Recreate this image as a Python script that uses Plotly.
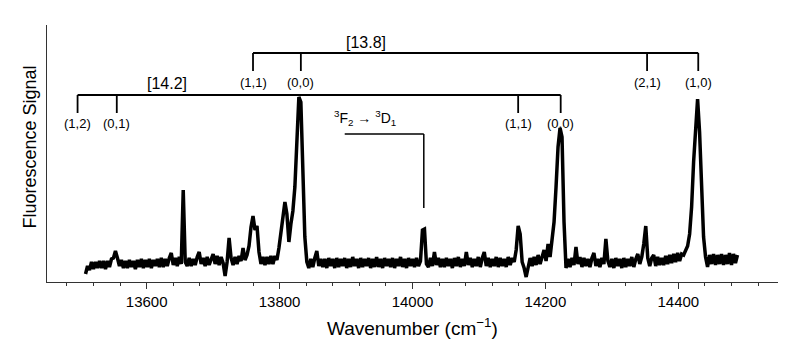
import plotly.graph_objects as go

# ---- data ----
wavenumber = [
    13508, 13511, 13514, 13517, 13520, 13523, 13526, 13529, 13532, 13535,
    13538, 13541, 13544, 13547, 13550, 13553, 13556, 13559, 13562, 13565,
    13568, 13571, 13574, 13577, 13580, 13583, 13586, 13589, 13592, 13595,
    13598, 13601, 13604, 13607, 13610, 13613, 13616, 13619, 13622, 13625,
    13628, 13631, 13634, 13637, 13640, 13643, 13646, 13649, 13652, 13655,
    13658, 13661, 13664, 13667, 13670, 13673, 13676, 13679, 13682, 13685,
    13688, 13691, 13694, 13697, 13700, 13703, 13706, 13709, 13712, 13715,
    13718, 13721, 13724, 13727, 13730, 13733, 13736, 13739, 13742, 13745,
    13748, 13751, 13754, 13757, 13760, 13763, 13766, 13769, 13772, 13775,
    13778, 13781, 13784, 13787, 13790, 13793, 13796, 13799, 13802, 13805,
    13808, 13811, 13814, 13817, 13820, 13823, 13826, 13829, 13832, 13835,
    13838, 13841, 13844, 13847, 13850, 13853, 13856, 13859, 13862, 13865,
    13868, 13871, 13874, 13877, 13880, 13883, 13886, 13889, 13892, 13895,
    13898, 13901, 13904, 13907, 13910, 13913, 13916, 13919, 13922, 13925,
    13928, 13931, 13934, 13937, 13940, 13943, 13946, 13949, 13952, 13955,
    13958, 13961, 13964, 13967, 13970, 13973, 13976, 13979, 13982, 13985,
    13988, 13991, 13994, 13997, 14000, 14003, 14006, 14009, 14012, 14015,
    14018, 14021, 14024, 14027, 14030, 14033, 14036, 14039, 14042, 14045,
    14048, 14051, 14054, 14057, 14060, 14063, 14066, 14069, 14072, 14075,
    14078, 14081, 14084, 14087, 14090, 14093, 14096, 14099, 14102, 14105,
    14108, 14111, 14114, 14117, 14120, 14123, 14126, 14129, 14132, 14135,
    14138, 14141, 14144, 14147, 14150, 14153, 14156, 14159, 14162, 14165,
    14168, 14171, 14174, 14177, 14180, 14183, 14186, 14189, 14192, 14195,
    14198, 14201, 14204, 14207, 14210, 14213, 14216, 14219, 14222, 14225,
    14228, 14231, 14234, 14237, 14240, 14243, 14246, 14249, 14252, 14255,
    14258, 14261, 14264, 14267, 14270, 14273, 14276, 14279, 14282, 14285,
    14288, 14291, 14294, 14297, 14300, 14303, 14306, 14309, 14312, 14315,
    14318, 14321, 14324, 14327, 14330, 14333, 14336, 14339, 14342, 14345,
    14348, 14351, 14354, 14357, 14360, 14363, 14366, 14369, 14372, 14375,
    14378, 14381, 14384, 14387, 14390, 14393, 14396, 14399, 14402, 14405,
    14408, 14411, 14414, 14417, 14420, 14423, 14426, 14429, 14432, 14435,
    14438, 14441, 14444, 14447, 14450, 14453, 14456, 14459, 14462, 14465,
    14468, 14471, 14474, 14477, 14480, 14483, 14486, 14489,
]
signal = [
    8, 16, 12, 20, 13, 20, 14, 21, 14, 21,
    13, 21, 15, 23, 24, 31, 24, 16, 22, 14,
    21, 14, 22, 15, 21, 13, 22, 15, 23, 14,
    22, 15, 23, 14, 22, 16, 23, 15, 24, 15,
    23, 16, 24, 29, 17, 24, 16, 25, 18, 92,
    20, 16, 24, 16, 23, 17, 25, 30, 18, 24,
    16, 25, 17, 24, 28, 18, 26, 17, 25, 19,
    6, 20, 44, 24, 17, 25, 18, 26, 21, 34,
    22, 27, 36, 55, 66, 52, 56, 30, 18, 25,
    17, 25, 18, 26, 18, 26, 22, 34, 50, 70,
    80, 68, 40, 58, 71, 95, 135, 185, 180, 110,
    45, 20, 14, 23, 15, 24, 31, 16, 23, 15,
    23, 14, 24, 16, 23, 14, 24, 15, 23, 16,
    24, 14, 23, 15, 25, 16, 23, 14, 24, 15,
    23, 16, 24, 14, 23, 15, 25, 15, 23, 14,
    24, 16, 23, 15, 24, 14, 23, 16, 25, 15,
    23, 14, 24, 16, 23, 15, 24, 16, 21, 52,
    53, 18, 15, 24, 16, 30, 17, 24, 15, 23,
    15, 24, 16, 23, 14, 24, 16, 25, 15, 23,
    16, 30, 17, 24, 15, 23, 16, 25, 15, 24,
    30, 16, 24, 15, 23, 16, 25, 15, 24, 16,
    23, 15, 25, 17, 24, 20, 32, 56, 48, 20,
    14, 5, 15, 24, 16, 25, 17, 27, 18, 26,
    32, 21, 38, 25, 40, 60, 95, 135, 154, 145,
    60, 14, 23, 15, 24, 17, 35, 18, 25, 15,
    24, 16, 23, 15, 24, 29, 16, 23, 15, 24,
    18, 43, 21, 15, 23, 14, 24, 16, 23, 14,
    24, 15, 23, 16, 25, 15, 23, 28, 18, 25,
    38, 56, 24, 16, 24, 27, 16, 25, 17, 24,
    17, 26, 18, 27, 19, 28, 20, 29, 21, 28,
    27, 32, 36, 48, 75, 120, 160, 183, 150, 100,
    45, 25, 15, 27, 18, 28, 17, 27, 18, 28,
    17, 27, 18, 29, 17, 28, 19, 27,
]

x_ticks = [13600, 13800, 14000, 14200, 14400]
x_tick_labels = ["13600", "13800", "14000", "14200", "14400"]

band_142_positions = [13496, 13555, 14159, 14223]
band_142_labels = ["(1,2)", "(0,1)", "(1,1)", "(0,0)"]
band_142_name = "[14.2]"

band_138_positions = [13760, 13832, 14353, 14430]
band_138_labels = ["(1,1)", "(0,0)", "(2,1)", "(1,0)"]
band_138_name = "[13.8]"

atomic_line_pos = 14017
atomic_line_label = "<sup>3</sup>F<sub>2</sub> \u2192 <sup>3</sup>D<sub>1</sub>"

FONT = "Liberation Sans, Arial, Helvetica, sans-serif"

fig = go.Figure()
fig.add_trace(go.Scatter(
    x=wavenumber, y=signal, mode="lines",
    line=dict(color="black", width=3.5),
    hoverinfo="skip", showlegend=False,
))

shapes = []
annotations = []


def add_bracket(positions, labels, name, y_bar, y_drop, y_label, name_x, name_y):
    shapes.append(dict(type="line", xref="x", yref="y",
                       x0=min(positions), x1=max(positions), y0=y_bar, y1=y_bar,
                       line=dict(color="black", width=1.8)))
    for p, lab in zip(positions, labels):
        shapes.append(dict(type="line", xref="x", yref="y",
                           x0=p, x1=p, y0=y_bar, y1=y_drop,
                           line=dict(color="black", width=1.8)))
        annotations.append(dict(x=p, y=y_label, xref="x", yref="y", text=lab,
                                showarrow=False,
                                font=dict(size=13, color="black", family=FONT),
                                xanchor="center", yanchor="middle"))
    annotations.append(dict(x=name_x, y=name_y, xref="x", yref="y", text=name,
                            showarrow=False,
                            font=dict(size=16, color="black", family=FONT),
                            xanchor="center", yanchor="middle"))


add_bracket(band_138_positions, band_138_labels, band_138_name,
            229, 211, 200, 13930, 240)
add_bracket(band_142_positions, band_142_labels, band_142_name,
            187, 169, 159, 13630, 199)

# atomic line marker
shapes.append(dict(type="line", xref="x", yref="y", x0=13898, x1=atomic_line_pos,
                   y0=148, y1=148, line=dict(color="black", width=1.5)))
shapes.append(dict(type="line", xref="x", yref="y", x0=atomic_line_pos, x1=atomic_line_pos,
                   y0=148, y1=74, line=dict(color="black", width=1.5)))
annotations.append(dict(x=13928, y=164, xref="x", yref="y", text=atomic_line_label,
                        showarrow=False, font=dict(size=14, color="black", family=FONT),
                        xanchor="center", yanchor="middle"))

# axis titles
annotations.append(dict(x=0, y=0.5, xref="paper", yref="paper", xshift=-18, yshift=6,
                        text="Fluorescence Signal", textangle=-90, showarrow=False,
                        font=dict(size=18, color="black", family=FONT),
                        xanchor="center", yanchor="middle"))
annotations.append(dict(x=0.5, y=0, xref="paper", yref="paper", yshift=-45,
                        text="Wavenumber (cm<sup>\u22121</sup>)", showarrow=False,
                        font=dict(size=19, color="black", family=FONT),
                        xanchor="center", yanchor="middle"))

fig.update_layout(
    width=804, height=346,
    margin=dict(l=47, r=26, t=25, b=64),
    paper_bgcolor="white", plot_bgcolor="white",
    font=dict(family=FONT, color="black", size=14),
    shapes=shapes, annotations=annotations,
    xaxis=dict(range=[13450, 14550], showgrid=False, zeroline=False,
               showline=True, linecolor="#333", linewidth=1,
               tickmode="array", tickvals=x_ticks, ticktext=x_tick_labels,
               ticks="outside", ticklen=6, tickcolor="#333", tickwidth=1,
               tickfont=dict(size=15, color="black", family=FONT),
               minor=dict(dtick=40, tick0=13480, ticks="outside", ticklen=3,
                          tickcolor="#333", tickwidth=1, showgrid=False)),
    yaxis=dict(range=[0, 257], showgrid=False, zeroline=False,
               showline=True, linecolor="#333", linewidth=1,
               ticks="", showticklabels=False),
)

fig.write_html("out.html", config={"displayModeBar": False, "staticPlot": True})

# remove the browser's default 8px page margin so the figure fills the window exactly
with open("out.html", "r", encoding="utf-8") as fh:
    page = fh.read()
page = page.replace("<head>", "<head><style>html,body{margin:0;padding:0;overflow:hidden;}</style>", 1)
with open("out.html", "w", encoding="utf-8") as fh:
    fh.write(page)
